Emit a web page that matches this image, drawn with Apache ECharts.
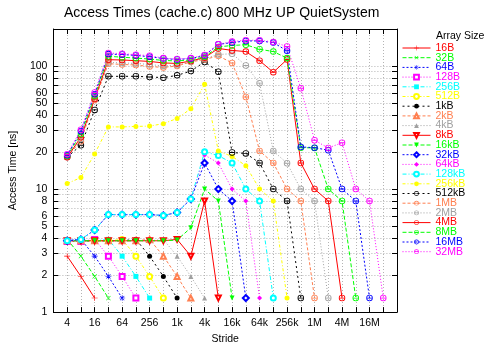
<!DOCTYPE html>
<html><head><meta charset="utf-8">
<script src="https://cdn.jsdelivr.net/npm/echarts@6/dist/echarts.min.js"></script>
<style>html,body{margin:0;padding:0;background:#fff}#c{width:500px;height:350px}</style>
</head><body><div id="c"></div>
<script>
// ---- data ----
const strides = [4,8,16,32,64,128,256,512,1024,2048,4096,8192,16384,32768,65536,131072,262144,524288,1048576,2097152,4194304,8388608,16777216,33554432];
const xGridValues = [2,4,8,16,32,64,128,256,512,1024,2048,4096,8192,16384,32768,65536,131072,262144,524288,1048576,2097152,4194304,8388608,16777216,33554432,67108864];
const xTickValues = [4,16,64,256,1024,4096,16384,65536,262144,1048576,4194304,16777216];
const xTickLabels = ['4','16','64','256','1k','4k','16k','64k','256k','1M','4M','16M'];
const yGridValues = [1,2,3,4,5,6,7,8,9,10,20,30,40,50,60,70,80,90,100,200];
const yTickValues = [1,2,3,4,5,6,8,10,20,30,40,50,60,80,100];
const yTickLabels = ['1','2','3','4','5','6','8','10','20','30','40','50','60','80','100'];

const seriesNames = ['16B','32B','64B','128B','256B','512B','1kB','2kB','4kB','8kB','16kB','32kB','64kB','128kB','256kB','512kB','1MB','2MB','4MB','8MB','16MB','32MB'];

const s16B = [2.85, 1.95, 1.3];
const s32B = [3.9, 2.85, 1.95, 1.3];
const s64B = [3.8, 3.9, 2.85, 1.95, 1.3];
const s128B = [3.75, 3.75, 3.9, 2.85, 1.95, 1.3];
const s256B = [3.8, 3.8, 3.8, 3.9, 2.85, 1.95, 1.3];
const s512B = [3.8, 3.8, 3.8, 3.8, 3.9, 2.85, 1.95, 1.3];
const s1kB = [3.8, 3.8, 3.8, 3.8, 3.8, 3.9, 2.85, 1.95, 1.3];
const s2kB = [3.8, 3.8, 3.8, 3.8, 3.8, 3.8, 3.9, 2.85, 1.95, 1.3];
const s4kB = [3.8, 3.8, 3.8, 3.8, 3.8, 3.8, 3.8, 3.9, 2.85, 1.95, 1.3];
const s8kB = [3.8, 3.8, 3.8, 3.8, 3.8, 3.8, 3.8, 3.8, 3.9, 2.85, 8.0, 1.3];
const s16kB = [3.8, 3.8, 3.8, 3.8, 3.8, 3.8, 3.8, 3.8, 3.85, 4.85, 10, 8.0, 1.3];
const s32kB = [3.8, 3.9, 4.65, 6.2, 6.2, 6.2, 6.2, 6.1, 6.45, 8.3, 16.3, 10, 8.0, 1.3];
const s64kB = [3.8, 3.9, 4.65, 6.2, 6.2, 6.2, 6.2, 6.1, 6.45, 8.3, 18.9, 16.3, 10, 8.0, 1.3];
const s128kB = [3.8, 3.9, 4.65, 6.2, 6.2, 6.2, 6.2, 6.1, 6.45, 8.3, 20.1, 18.7, 16.3, 10, 8.0, 1.3];
const s256kB = [11.1, 12.4, 19.3, 32, 32, 32.3, 32.5, 34, 37.5, 45, 71, 20.4, 18.4, 15.5, 10, 8.0, 1.3];
const s512kB = [18.2, 22.7, 44, 82.5, 82.5, 82.5, 81.5, 80.5, 84, 91, 108, 90, 19.8, 19.5, 16.3, 10, 8.0, 1.3];
const s1MB = [18.4, 24.5, 53, 104.5, 103, 102, 99, 97.5, 100, 108, 113, 121, 106, 56, 20.4, 16.3, 10, 8.0, 1.3];
const s2MB = [18.5, 25.5, 54, 107, 106, 105, 103, 100, 102, 109, 115, 124, 126, 101, 72.6, 20.4, 16.2, 10, 8.0, 1.3];
const s4MB = [18.1, 26.4, 54, 112.6, 112, 110.5, 109, 106, 105, 110, 117, 139, 134, 131, 110.5, 89, 113, 16.3, 10, 8.0, 1.3];
const s8MB = [18.6, 28, 57, 120, 118, 116, 114, 111, 110, 112, 119, 143, 147, 149, 137, 131, 116, 21.7, 21.6, 10, 8.0, 1.3];
const s16MB = [18.8, 29.5, 59, 125, 124, 122, 119, 115, 113, 115, 122, 150, 155, 160, 160, 155, 133, 22, 21.7, 20.7, 10, 8.0, 1.3];
const s32MB = [19.2, 30.4, 61, 127.5, 126, 123.6, 121.5, 116, 114, 116, 123, 150, 158, 162, 162, 157, 144, 66, 24.9, 21.6, 23.8, 10, 8.0, 1.3];

const seriesValues = [s16B,s32B,s64B,s128B,s256B,s512B,s1kB,s2kB,s4kB,s8kB,s16kB,s32kB,s64kB,s128kB,s256kB,s512kB,s1MB,s2MB,s4MB,s8MB,s16MB,s32MB];

// ---- styles ----
const colors = ['#ff0000','#00ff00','#0000ff','#ff00ff','#00ffff','#ffff00','#000000','#ff7f50','#a0a0a0'];
const dashes = ['solid',[4,2],[2,2],[1,2],[4,2,1,2],[3,2,1,2],[2,3],[3,2],[1,2]];
const PLUS = 'path://M-0.45,-5L0.45,-5L0.45,5L-0.45,5Z M-5,-0.45L5,-0.45L5,0.45L-5,0.45Z';
const STAR = 'path://M-0.45,-5L0.45,-5L0.45,5L-0.45,5Z M-5,-0.45L5,-0.45L5,0.45L-5,0.45Z M-3.85,-3.25L3.25,3.85L3.85,3.25L-3.25,-3.85Z M3.25,-3.85L3.85,-3.25L-3.25,3.85L-3.85,3.25Z';
const RING = 'path://M-5,0A5,5 0 1,0 5,0A5,5 0 1,0 -5,0Z M-3.8,0A3.8,3.8 0 1,1 3.8,0A3.8,3.8 0 1,1 -3.8,0Z M-3.8,-0.7L3.8,-0.7L3.8,0.7L-3.8,0.7Z';
const symbols = [PLUS,PLUS,STAR,'emptyRect','rect','emptyCircle','circle','emptyTriangle','triangle','emptyTriangle','triangle','emptyDiamond','diamond','emptyCircle','circle',RING,RING,RING,RING,RING,RING,RING];
const symRot = [0,45,0,0,0,0,0,0,0,180,180,0,0,0,0,0,0,0,0,0,0,0];
const symSize = [6,6,6,5,5,5,5,5,5,5,5,6,5,5,5,6.5,6.5,6.5,6.5,6.5,6.5,6.5];

const FONT = 'Liberation Sans, Arial, sans-serif';

const series = seriesNames.map((name, i) => {
  const c = colors[i % 9];
  const sym = symbols[i];
  const isEmpty = typeof sym === 'string' && sym.indexOf('empty') === 0;
  return {
    name: name,
    type: 'line',
    data: seriesValues[i].map((v, j) => [strides[j], v]),
    symbol: sym,
    symbolSize: symSize[i],
    symbolRotate: symRot[i],
    lineStyle: {color: c, width: 1, type: dashes[i % 9]},
    itemStyle: {color: c, borderColor: c, borderWidth: isEmpty ? 1 : 0},
    animation: false,
    emphasis: {disabled: true}
  };
});

const legendData = seriesNames.map((n, i) => ({name: n, textStyle: {color: colors[i % 9]}}));

function xFmt(v) {
  const k = Math.round(Math.log2(v));
  for (let i = 0; i < xTickValues.length; i++) if (Math.round(Math.log2(xTickValues[i])) === k) return xTickLabels[i];
  return '';
}
function yFmt(v) {
  for (let i = 0; i < yTickValues.length; i++) if (Math.abs(yTickValues[i] - v) < 1e-6 * yTickValues[i] + 1e-9) return yTickLabels[i];
  return '';
}

const gridLine = {show: true, lineStyle: {color: '#b4b4b4', width: 1, type: [1, 2]}};
const axLine = {show: true, onZero: false, lineStyle: {color: '#000', width: 1}};

const chart = echarts.init(document.getElementById('c'), null, {renderer: 'canvas'});
chart.setOption({
  animation: false,
  backgroundColor: '#fff',
  title: [
    {text: 'Access Times (cache.c) 800 MHz UP QuietSystem', left: 64, top: 6, padding: 0,
     textStyle: {fontFamily: FONT, fontSize: 14, fontWeight: 'normal', color: '#000'}},
    {text: 'Array Size', left: 436, top: 31, padding: 0,
     textStyle: {fontFamily: FONT, fontSize: 10.5, fontWeight: 'normal', color: '#000'}}
  ],
  legend: {
    orient: 'vertical', left: 402, top: 42.5, padding: 0,
    itemWidth: 28, itemHeight: 6, itemGap: -1.3,
    textStyle: {fontFamily: FONT, fontSize: 10.5, lineHeight: 9.76},
    lineStyle: {width: 1},
    data: legendData,
    selectedMode: false
  },
  grid: {left: 44, right: 103, top: 29, bottom: 30, containLabel: false},
  xAxis: [
    {type: 'log', logBase: 2, min: 2, max: 67108864, position: 'bottom',
     name: 'Stride', nameLocation: 'middle', nameGap: 20,
     nameTextStyle: {fontFamily: FONT, fontSize: 10.5, color: '#000'},
     axisLine: axLine,
     axisTick: {show: true, inside: true, length: 5, customValues: xGridValues, lineStyle: {color: '#000'}},
     axisLabel: {show: true, margin: 6, customValues: xTickValues, formatter: xFmt, fontFamily: FONT, fontSize: 10.5, color: '#000'},
     splitLine: gridLine, minorTick: {show: false}},
    {type: 'log', logBase: 2, min: 2, max: 67108864, position: 'top',
     axisLine: axLine,
     axisTick: {show: true, inside: true, length: 5, customValues: xGridValues, lineStyle: {color: '#000'}},
     axisLabel: {show: false}, splitLine: {show: false}}
  ],
  yAxis: [
    {type: 'log', logBase: 10, min: 1, max: 200, position: 'left',
     name: 'Access Time [ns]', nameLocation: 'middle', nameGap: 27, nameRotate: 90,
     nameTextStyle: {fontFamily: FONT, fontSize: 10.5, color: '#000'},
     axisLine: axLine,
     axisTick: {show: true, inside: true, length: 5, customValues: yGridValues, lineStyle: {color: '#000'}},
     axisLabel: {show: true, margin: 6, customValues: yTickValues, formatter: yFmt, fontFamily: FONT, fontSize: 10.5, color: '#000'},
     splitLine: gridLine},
    {type: 'log', logBase: 10, min: 1, max: 200, position: 'right',
     axisLine: axLine,
     axisTick: {show: true, inside: true, length: 5, customValues: yGridValues, lineStyle: {color: '#000'}},
     axisLabel: {show: false}, splitLine: {show: false}}
  ],
  series: series
});
</script>
</body></html>
